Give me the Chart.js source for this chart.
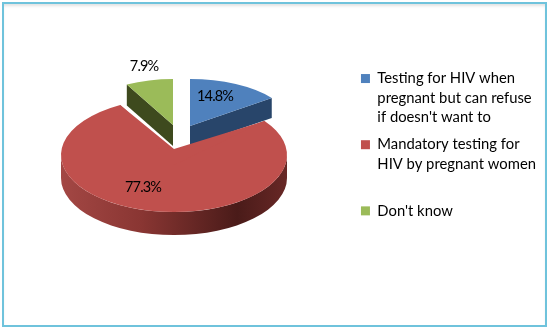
<!DOCTYPE html>
<html>
<head>
<meta charset="utf-8">
<style>
html, body { margin: 0; background: #fff; }
#frame { position: absolute; left: 2px; top: 2px; width: 541px; height: 321px; border: 2px solid #6fc3dc;
         box-shadow: inset 0 3px 3px -1px #e2e2e2; }
canvas { position: absolute; left: 0; top: 0; }
</style>
<script src="https://cdn.jsdelivr.net/npm/chart.js@4"></script>
</head>
<body>
<div id="frame"></div>
<canvas id="myChart" width="548" height="327"></canvas>
<script>
// Data
const categories = [
    ['Testing for HIV when', 'pregnant but can refuse', "if doesn't want to"],
    ['Mandatory testing for', 'HIV by pregnant women', ''],
    ["Don't know"]
];
const shares = [14.8, 77.3, 7.9];
const shareLabels = ['14.8%', '77.3%', '7.9%'];

const topColors = ['#4f81bd', '#c0504d', '#9bbb59'];
const wallColors = ['#28456a', '#7a302d', '#3e4a1e'];

// 3D look: where each exploded slice sits relative to the pie centre
const pieCentre = { x: 174, y: 155 };
const sliceLook = [
    { dx: 16, dy: -29, rx: 102, ry: 47, depth: 20 },
    { dx: 0, dy: 0, rx: 113, ry: 57, depth: 23 },
    { dx: -1, dy: -30, rx: 97, ry: 46, depth: 21 }
];
const labelNudge = [[25, -30], [-31, 32], [-29, -59]];
const apexLift = 6; // red tip sits a bit higher than its ellipse centre

function arcPoint(look, angle) {
    return {
        x: pieCentre.x + look.dx + Math.cos(angle) * look.rx,
        y: pieCentre.y + look.dy + Math.sin(angle) * look.ry
    };
}

function drawCutWall(ctx, look, angle, color) {
    const cx = pieCentre.x + look.dx, cy = pieCentre.y + look.dy;
    const p = arcPoint(look, angle);
    ctx.fillStyle = color;
    ctx.beginPath();
    ctx.moveTo(cx, cy);
    ctx.lineTo(p.x, p.y);
    ctx.lineTo(p.x, p.y + look.depth);
    ctx.lineTo(cx, cy + look.depth);
    ctx.closePath();
    ctx.fill();
}

function drawOuterWall(ctx, look, from, to) {
    const cx = pieCentre.x + look.dx, cy = pieCentre.y + look.dy;
    const g = ctx.createLinearGradient(cx - look.rx, 0, cx + look.rx, 0);
    g.addColorStop(0, '#a34744');
    g.addColorStop(0.35, '#8a3633');
    g.addColorStop(0.78, '#4a1b19');
    g.addColorStop(1, '#682826');
    ctx.fillStyle = g;
    ctx.beginPath();
    ctx.ellipse(cx, cy, look.rx, look.ry, 0, from, to);
    ctx.ellipse(cx, cy + look.depth, look.rx, look.ry, 0, to, from, true);
    ctx.closePath();
    ctx.fill();
}

const pie3d = {
    id: 'pie3d',
    beforeDatasetDraw(chart, args) {
        const ctx = chart.ctx;
        const arcs = chart.getDatasetMeta(args.index).data;
        // red last so that it covers the walls of the pulled out slices
        [0, 2, 1].forEach(i => {
            const arc = arcs[i], look = sliceLook[i];
            drawCutWall(ctx, look, arc.startAngle, wallColors[i]);
            drawCutWall(ctx, look, arc.endAngle, wallColors[i]);
            const from = Math.max(arc.startAngle, 0), to = Math.min(arc.endAngle, Math.PI);
            if (to > from) drawOuterWall(ctx, look, from, to);

            ctx.save();
            ctx.translate(pieCentre.x + look.dx, pieCentre.y + look.dy);
            ctx.scale(look.rx / arc.outerRadius, look.ry / arc.outerRadius);
            ctx.translate(-arc.x, -arc.y);
            arc.draw(ctx);
            ctx.restore();

            if (i === 1) {
                const a = arcPoint(look, arc.startAngle), b = arcPoint(look, arc.endAngle);
                ctx.fillStyle = topColors[i];
                ctx.beginPath();
                ctx.moveTo(a.x, a.y);
                ctx.lineTo(pieCentre.x, pieCentre.y - apexLift);
                ctx.lineTo(b.x, b.y);
                ctx.lineTo(pieCentre.x, pieCentre.y + 10);
                ctx.closePath();
                ctx.fill();
            }
        });
        // Procent-etiketter
        ctx.font = '14.5px Lato';
        ctx.letterSpacing = '-0.9px';
        ctx.fillStyle = '#000';
        ctx.textAlign = 'center';
        ctx.textBaseline = 'middle';
        shareLabels.forEach((text, i) => {
            ctx.fillText(text, pieCentre.x + sliceLook[i].dx + labelNudge[i][0], pieCentre.y + sliceLook[i].dy + labelNudge[i][1]);
        });
        ctx.letterSpacing = '0px';
        return false;
    }
};

const ctx = document.getElementById('myChart').getContext('2d');
new Chart(ctx, {
    type: 'pie',
    plugins: [pie3d],
    data: {
        labels: categories,
        datasets: [{
            data: shares,
            backgroundColor: topColors,
            borderWidth: 0,
            radius: 113
        }]
    },
    options: {
        responsive: false,
        animation: false,
        layout: { padding: { right: 2, bottom: 33 } },
        plugins: {
            tooltip: { enabled: false },
            legend: {
                position: 'right',
                align: 'center',
                labels: {
                    boxWidth: 9,
                    boxHeight: 9,
                    padding: 8,
                    color: '#000',
                    font: { family: 'Lato', size: 14.8, lineHeight: 1.31 }
                }
            }
        }
    }
});
</script>
</body>
</html>
